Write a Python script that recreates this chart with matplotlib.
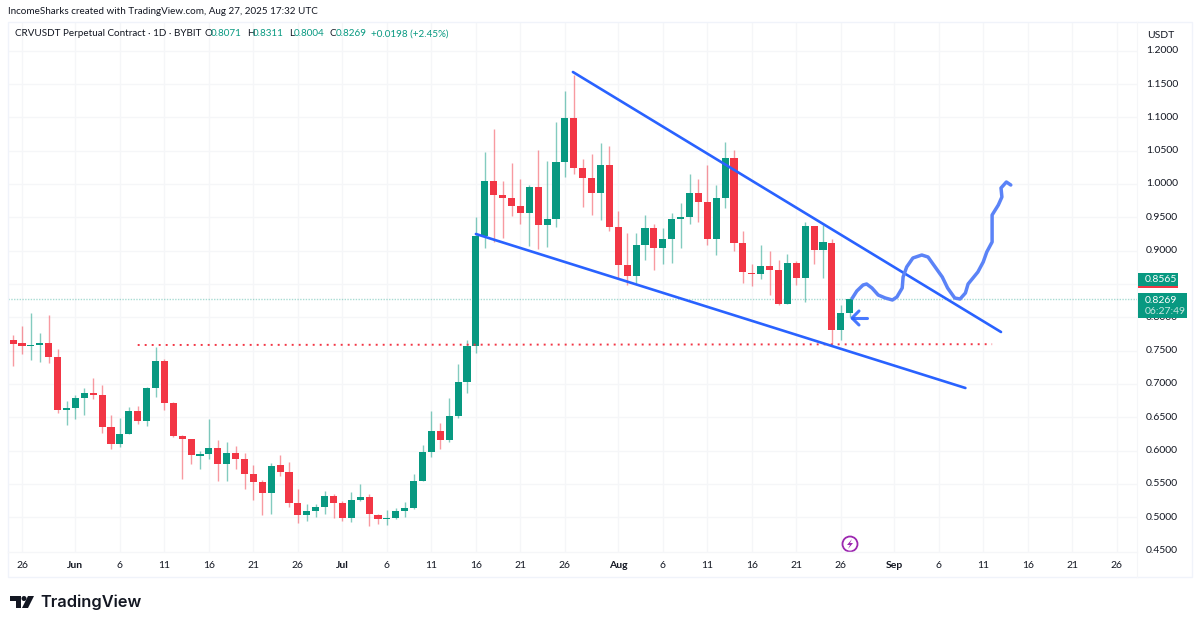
import matplotlib
matplotlib.use("Agg")
import matplotlib.pyplot as plt
from matplotlib.patches import Circle, Polygon, Rectangle

plt.rcParams['font.family'] = ['Lato', 'DejaVu Sans']

# days counted from May 26, first candle is May 25
first_day = -1
opens = [.766, .761, .7575, .758, .762, .7405, .6615, .6635, .6785, .6865,
         .683, .636, .6095, .6245, .6595, .644, .6935, .7345, .6715, .6215,
         .6175, .5925, .5945, .604, .58, .596, .588, .5655, .5525, .536,
         .578, .5685, .522, .503, .51, .5155, .5315, .521, .4995, .526,
         .531, .504, .497, .4995, .5095, .5145, .555, .5985, .63, .616,
         .652, .7035, .757, .922, 1.005, .983, .9795, .9665, .956, .995,
         .9385, .948, 1.033, 1.0985, 1.0235, 1.0095, .987, 1.028, .936, .878,
         .862, .9085, .934, .9035, .9175, .9475, .95, .987, .9735, .9175,
         .979, 1.039, .911, .867, .865, .8775, .871, .8195, .8815, .8585,
         .9365, .9015, .912, .781, .8071]
closes = [.7605, .7575, .759, .762, .7405, .6615, .664, .6785, .6865, .6835,
          .636, .6095, .6245, .6595, .644, .6935, .7345, .672, .622, .6175,
          .5935, .595, .604, .58, .596, .5875, .5655, .5525, .536, .5775,
          .5685, .522, .503, .51, .5155, .5315, .5215, .4995, .526, .531,
          .5045, .497, .4995, .5095, .5145, .555, .5985, .63, .616, .652,
          .7035, .757, .9225, 1.005, .983, .9795, .9665, .956, .995, .9385,
          .948, 1.0325, 1.0985, 1.024, 1.0095, .987, 1.028, .936, .878, .862,
          .908, .934, .9035, .917, .9475, .95, .987, .9735, .9175, .979,
          1.0395, .9115, .8675, .865, .8775, .871, .8195, .8815, .8585, .9365,
          .9015, .9125, .781, .8065, .8269]
highs = [.7735, .787, .8065, .776, .803, .753, .674, .683, .6935, .7085,
         .698, .6535, .6495, .6655, .667, .696, .7555, .738, .6735, .623,
         .618, .599, .647, .616, .6125, .607, .5965, .579, .556, .5815,
         .593, .5835, .542, .52, .5195, .539, .5345, .525, .538, .55,
         .5355, .5055, .5105, .5135, .5235, .5645, .608, .66, .642, .6785,
         .7295, .766, .95, 1.048, 1.082, 1.005, 1.032, 1.008, .998, 1.051,
         1.0345, 1.093, 1.14, 1.1635, 1.037, 1.045, 1.061, 1.0575, .96, .927,
         .926, .953, .9395, .934, .957, .971, 1.0145, 1.007, 1.0285, .998,
         1.063, 1.051, .93, .8795, .908, .9, .886, .895, .8845, .943,
         .937, .9385, .917, .8185, .8311]
lows = [.7275, .7445, .736, .7325, .732, .657, .638, .647, .6535, .678,
        .627, .602, .606, .6245, .6405, .6375, .681, .6605, .621, .557,
        .5805, .573, .5875, .5545, .555, .573, .5425, .526, .5035, .505,
        .5625, .516, .491, .495, .501, .505, .499, .495, .4935, .5245,
        .4875, .49, .489, .497, .5, .512, .555, .591, .6025, .6135,
        .649, .686, .747, .9035, .9125, .919, .9525, .9405, .907, .903,
        .9055, .935, 1.011, 1.0145, .965, .9535, .946, .93, .8585, .848,
        .851, .886, .871, .88, .882, .904, .9405, .9435, .9085, .8935,
        .9645, .9, .852, .8475, .858, .8335, .8185, .8195, .8485, .8235,
        .88, .8595, .7585, .766, .8004]

price_ticks = [1.2, 1.15, 1.1, 1.05, 1.0, .95, .9, .8, .75, .7, .65, .6, .55, .5, .45]
grid_prices = [1.2, 1.15, 1.1, 1.05, 1.0, .95, .9, .85, .8, .75, .7, .65, .6, .55, .5]
tick_days = [0, 6, 11, 16, 21, 26, 31, 36, 41, 46, 51, 56, 61, 67, 72, 77, 82, 87, 92, 98, 103, 108, 113, 118, 123]
tick_labels = ['26', 'Jun', '6', '11', '16', '21', '26', 'Jul', '6', '11', '16', '21', '26',
               'Aug', '6', '11', '16', '21', '26', 'Sep', '6', '11', '16', '21', '26']
months = ['Jun', 'Jul', 'Aug', 'Sep']

last_close = .8269
support_days = [13, 109]
support_prices = [.7585, .7597]
upper_days = [61.9, 110]
upper_prices = [1.168, .778]
lower_days = [51, 106]
lower_prices = [.925, .694]
sketch_days = [93.3, 93.8, 94.5, 94.9, 95.5, 96.2, 97.0, 97.8, 98.3, 98.9, 99.0,
               99.4, 100.1, 101.1, 101.8, 102.6, 103.4, 104.0, 104.8, 105.4, 106.0,
               106.3, 107.4, 108.0, 108.4, 109.0, 109.0, 109.7, 110.1, 110.0, 110.6, 111.1]
sketch_prices = [.829, .8395, .8485, .85, .844, .8335, .829, .826, .8305, .844, .8605,
                 .8755, .889, .8935, .8905, .8755, .8605, .844, .829, .8275, .8365,
                 .85, .868, .883, .898, .913, .9535, .9685, .9805, .994, 1.003, .9985]

GREEN = '#089981'
RED = '#f23645'
BLUE = '#2962ff'
TEXT = '#131722'
GRID = '#f5f6f8'

fig = plt.figure(figsize=(12, 6.27), dpi=100, facecolor='white')
ax = fig.add_axes([8 / 1200, 1 - 552 / 627, 1129 / 1200, 530 / 627])
ax.set_xlim(-1.573, 125.28)
ax.set_ylim(.448, 1.243)
for side in ax.spines:
    ax.spines[side].set_visible(False)
ax.set_xticks([])
ax.set_yticks([])

ax.hlines(grid_prices, -1.573, 125.28, color=GRID, lw=1, zorder=0)
ax.vlines(tick_days, .448, 1.243, color=GRID, lw=1, zorder=0)

# candles
for i in range(len(opens)):
    day = first_day + i
    color = GREEN if closes[i] >= opens[i] else RED
    ax.vlines(day, lows[i], highs[i], color=color, lw=1, alpha=.5, zorder=2)
    bottom = min(opens[i], closes[i])
    ax.bar(day, abs(closes[i] - opens[i]), bottom=bottom, width=.8, color=color, lw=0, zorder=3)

ax.axhline(last_close, color=GREEN, lw=1, ls=(0, (1, 1)), alpha=.35, zorder=1)

# drawings on top of the candles
ax.plot(support_days, support_prices, color=RED, lw=1.4, ls=(0, (1, 2.6)), zorder=4)
ax.plot(upper_days, upper_prices, color=BLUE, lw=1.9, zorder=5, solid_capstyle='round')
ax.plot(lower_days, lower_prices, color=BLUE, lw=1.9, zorder=5, solid_capstyle='round')
ax.plot(sketch_days, sketch_prices, color='#5b83f7', lw=2.5, zorder=6,
        solid_capstyle='round', solid_joinstyle='round')


def px(x, y):
    return x / 1200, 1 - y / 627


def label(x, y, s, **kw):
    kw.setdefault('color', TEXT)
    kw.setdefault('fontsize', 7.5)
    kw.setdefault('va', 'center')
    fig.text(x / 1200, 1 - y / 627, s, **kw)


def fig_line(xs, ys, **kw):
    fig.add_artist(plt.Line2D([x / 1200 for x in xs], [1 - y / 627 for y in ys], **kw))


# hand drawn arrow
fig_line([852, 867], [318, 318], color=BLUE, lw=2.2, solid_capstyle='round', zorder=10, alpha=.85)
fig_line([859, 852, 859], [311, 318, 325], color=BLUE, lw=2.2, solid_capstyle='round', zorder=10, alpha=.85)

# frame around the chart
fig.add_artist(Rectangle(px(8, 577), 1184 / 1200, 555 / 627, transform=fig.transFigure,
                         fill=False, ec='#f0f3fa', lw=1))
fig_line([8, 1137], [552, 552], color=GRID, lw=1)
fig_line([1137, 1137], [22, 577], color=GRID, lw=.8)

# header
label(8, 12, 'IncomeSharks created with TradingView.com, Aug 27, 2025 17:32 UTC', fontsize=7.1)
label(15, 34, 'CRVUSDT Perpetual Contract · 1D · BYBIT', fontsize=7.1)
for x, s, color in [(204, 'O', TEXT), (211, '0.8071', GREEN), (247, 'H', TEXT), (253, '0.8311', GREEN),
                    (289, 'L', TEXT), (294, '0.8004', GREEN), (329, 'C', TEXT), (336, '0.8269', GREEN),
                    (371, '+0.0198 (+2.45%)', GREEN)]:
    label(x, 34, s, color=color, fontsize=7.1)
label(1147, 36, 'USDT')

# price scale
for p in price_ticks:
    y = 184 + (1 - p) * 666.5
    label(1146, y, '%.4f' % p, zorder=1)

fig.add_artist(Rectangle(px(1138, 288), 40 / 1200, 15 / 627, transform=fig.transFigure,
                         fc=GREEN, ec='none', zorder=8))
fig.add_artist(Rectangle(px(1138, 288), 40 / 1200, 1.6 / 627, transform=fig.transFigure,
                         fc=RED, ec='none', zorder=9))
label(1145, 280, '0.8565', color='white', zorder=10)
fig.add_artist(Rectangle(px(1138, 318), 49 / 1200, 25 / 627, transform=fig.transFigure,
                         fc=GREEN, ec='none', zorder=8))
label(1145, 300, '0.8269', color='white', zorder=10)
label(1145, 312, '06:27:49', color='#c5e6df', zorder=10)

# time scale
for day, s in zip(tick_days, tick_labels):
    x = 22 + day * 8.9
    weight = 'bold' if s in months else 'normal'
    label(x, 565, s, ha='center', weight=weight)

# lightning marker
marker_ax = fig.add_axes([0, 0, 1, 1], facecolor='none')
marker_ax.set_xlim(0, 1200)
marker_ax.set_ylim(627, 0)
marker_ax.axis('off')
marker_ax.add_patch(Circle((850, 544), 7.5, fill=False, ec='#9c27b0', lw=1.3))
marker_ax.add_patch(Polygon([(852, 539), (847, 545), (850, 545), (848, 549), (853, 543), (850, 543)],
                            fc='#9c27b0', ec='none'))

# TradingView logo
marker_ax.add_patch(Polygon([(10, 596), (21, 596), (21, 608), (15.5, 608), (15.5, 601), (10, 601)],
                            fc=TEXT, ec='none'))
marker_ax.add_patch(Circle((24, 598.5), 2.5, fc=TEXT, ec='none'))
marker_ax.add_patch(Polygon([(28, 596), (34, 596), (28, 608), (22, 608)], fc=TEXT, ec='none'))
marker_ax.text(40.5, 602.5, 'TradingView', fontsize=11.8, family='Inter', weight='semibold',
               color=TEXT, va='center')

fig.savefig('out.png', dpi=100)
